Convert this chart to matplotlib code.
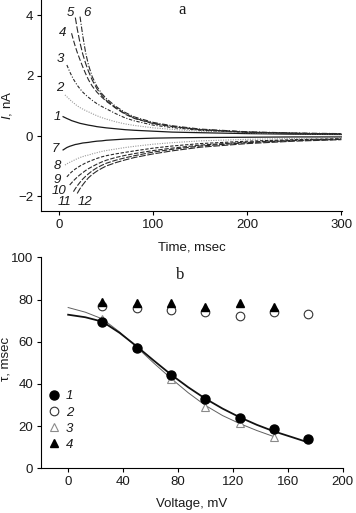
import numpy as np
import matplotlib
matplotlib.use("Agg")
import matplotlib.pyplot as plt

plt.rcParams['font.family'] = ['Liberation Sans', 'DejaVu Sans']
plt.rcParams['mathtext.fontset'] = 'custom'
plt.rcParams['mathtext.it'] = 'Liberation Sans:italic'
plt.rcParams['mathtext.rm'] = 'Liberation Sans'
TXT = '#1a1a1a'

# ---------------- panel a data: current traces (nA) vs time (ms) ----------------
time_ms = [4, 6, 8, 11, 13, 15, 17, 19, 22, 25, 28, 31, 35, 40, 45, 50,
           60, 70, 80, 100, 120, 150, 200, 250, 300]
# each trace starts later on the common time grid (aligned to its end)
trace1 = [0.64, 0.61, 0.58, 0.54, 0.51, 0.49, 0.47, 0.45, 0.42, 0.40, 0.38, 0.36, 0.34,
          0.31, 0.29, 0.27, 0.24, 0.21, 0.19, 0.16, 0.13, 0.11, 0.08, 0.06, 0.05]
trace2 = [1.36, 1.30, 1.21, 1.15, 1.10, 1.05, 1.00, 0.94, 0.89, 0.84, 0.80, 0.74,
          0.67, 0.61, 0.56, 0.47, 0.40, 0.35, 0.27, 0.22, 0.16, 0.11, 0.08, 0.06]
trace3 = [2.35, 2.13, 2.00, 1.88, 1.78, 1.68, 1.56, 1.45, 1.36, 1.28, 1.18, 1.07,
          0.98, 0.90, 0.74, 0.60, 0.50, 0.36, 0.28, 0.19, 0.12, 0.09, 0.07]
trace4 = [3.40, 3.17, 2.96, 2.77, 2.52, 2.28, 2.06, 1.86, 1.65, 1.45, 1.29, 1.15,
          0.92, 0.72, 0.58, 0.41, 0.31, 0.21, 0.13, 0.09, 0.07]
trace5 = [3.92, 3.55, 3.08, 2.70, 2.40, 2.14, 1.85, 1.56, 1.35, 1.18, 0.94, 0.74,
          0.59, 0.42, 0.32, 0.21, 0.13, 0.09, 0.07]
trace6 = [3.95, 3.30, 2.75, 2.35, 1.96, 1.64, 1.41, 1.24, 0.98, 0.78, 0.63, 0.45,
          0.34, 0.23, 0.14, 0.10, 0.08]
trace7 = [-0.46, -0.42, -0.38, -0.34, -0.32, -0.30, -0.28, -0.27, -0.25, -0.23, -0.22,
          -0.21, -0.19, -0.17, -0.16, -0.14, -0.12, -0.10, -0.09, -0.07, -0.06, -0.05,
          -0.04, -0.03, -0.03]
trace8 = [-0.96, -0.92, -0.87, -0.84, -0.81, -0.78, -0.75, -0.71, -0.68, -0.65, -0.63,
          -0.59, -0.55, -0.51, -0.48, -0.43, -0.38, -0.34, -0.27, -0.22, -0.16, -0.11,
          -0.08, -0.06]
trace9 = [-1.35, -1.25, -1.19, -1.14, -1.09, -1.05, -0.99, -0.94, -0.89, -0.85, -0.80,
          -0.74, -0.69, -0.65, -0.59, -0.54, -0.49, -0.40, -0.33, -0.25, -0.17, -0.12,
          -0.09]
trace10 = [-1.62, -1.55, -1.48, -1.42, -1.36, -1.28, -1.21, -1.14, -1.08, -1.01, -0.93,
           -0.86, -0.80, -0.71, -0.64, -0.58, -0.48, -0.40, -0.30, -0.20, -0.14, -0.10]
trace11 = [-1.84, -1.74, -1.65, -1.53, -1.42, -1.33, -1.25, -1.15, -1.05, -0.97, -0.90,
           -0.80, -0.72, -0.65, -0.53, -0.44, -0.33, -0.22, -0.15, -0.11]
trace12 = [-1.90, -1.74, -1.61, -1.49, -1.38, -1.27, -1.16, -1.07, -0.99, -0.88, -0.79,
           -0.71, -0.59, -0.49, -0.37, -0.25, -0.17, -0.12]
trace_labels = ['1', '2', '3', '4', '5', '6', '7', '8', '9', '10', '11', '12']

# ---------------- panel b data: tau (ms) vs voltage (mV) ----------------
volt1 = [25, 50, 75, 100, 125, 150, 175]
tau1 = [69.5, 57.0, 44.0, 33.0, 24.0, 18.5, 14.0]
volt2 = [25, 50, 75, 100, 125, 150, 175]
tau2 = [77.0, 76.0, 75.0, 74.0, 72.0, 74.0, 73.0]
volt3 = [25, 50, 75, 100, 125, 150]
tau3 = [71.0, 57.3, 42.3, 29.2, 21.3, 15.0]
volt4 = [25, 50, 75, 100, 125, 150]
tau4 = [79.0, 78.2, 78.2, 76.6, 78.5, 76.3]
fit1_volt = [0, 12.5, 25, 37.5, 50, 62.5, 75, 87.5, 100, 112.5, 125, 137.5, 150, 162.5, 172]
fit1_tau = [72.8, 71.6, 69.5, 64.2, 57.8, 51.0, 44.4, 38.4, 33.0, 28.3, 24.2, 20.6, 17.5,
            14.9, 12.9]
fit3_volt = [0, 12.5, 25, 37.5, 50, 62.5, 75, 87.5, 100, 112.5, 125, 137.5, 150]
fit3_tau = [76.2, 74.0, 70.8, 64.6, 57.4, 49.8, 42.6, 35.8, 29.8, 25.0, 21.2, 17.9, 15.0]
series_labels = ['1', '2', '3', '4']

fig = plt.figure(figsize=(3.56, 5.13), dpi=100)

# ================= panel a =================
axa = fig.add_axes([0.1152, 0.5887, 0.8463, 0.4113])
traces = [trace1, trace2, trace3, trace4, trace5, trace6,
          trace7, trace8, trace9, trace10, trace11, trace12]
styles = [
    dict(color='#1a1a1a', ls='-', lw=0.9),
    dict(color='#9a9a9a', ls=(0, (1, 1.2)), lw=0.8),
    dict(color='#2a2a2a', ls=(0, (3, 1.5, 1, 1.5)), lw=0.8),
    dict(color='#2a2a2a', ls=(0, (5, 2)), lw=0.8),
    dict(color='#2a2a2a', ls=(0, (6, 2)), lw=0.8),
    dict(color='#2a2a2a', ls=(0, (5, 1.5, 1, 1.5)), lw=0.8),
    dict(color='#1a1a1a', ls='-', lw=0.9),
    dict(color='#9a9a9a', ls=(0, (1, 1.2)), lw=0.8),
    dict(color='#2a2a2a', ls=(0, (3, 1.5)), lw=0.8),
    dict(color='#2a2a2a', ls=(0, (4, 1.5)), lw=0.8),
    dict(color='#2a2a2a', ls=(0, (5, 1.5)), lw=0.8),
    dict(color='#2a2a2a', ls=(0, (6, 1.5)), lw=0.8),
]
for vals, st in zip(traces, styles):
    t = time_ms[len(time_ms) - len(vals):]
    axa.plot(t, vals, **st)

label_pos = [(-2.5, 0.63), (0.7, 1.59), (0.7, 2.55), (4.0, 3.41), (11.4, 4.08), (29.5, 4.08),
             (-4.6, -0.43), (-2.5, -1.0), (-2.5, -1.44), (-0.3, -1.81), (6.0, -2.18),
             (27.0, -2.18)]
for lab, (x, y) in zip(trace_labels, label_pos):
    axa.text(x, y, lab, fontsize=9.5, fontstyle='italic', ha='center', va='center', color=TXT)

axa.text(130.5, 4.17, 'a', fontsize=12, family=['Liberation Serif', 'DejaVu Serif'],
         ha='center', va='center', color=TXT)

axa.set_xlim(-19.5, 301)
axa.set_ylim(-2.48, 4.5)
axa.set_xticks([0, 100, 200, 300])
axa.set_yticks([-2, 0, 2, 4])
axa.set_xlabel('Time, msec', fontsize=9.5, color=TXT)
axa.set_ylabel(r'$\mathit{I}$, nA', fontsize=9.5, color=TXT)
axa.xaxis.set_label_coords(0.5, -0.145)
axa.yaxis.set_label_coords(-0.09, 0.5)

# ================= panel b =================
axb = fig.add_axes([0.1143, 0.0871, 0.8483, 0.4113])
axb.plot(fit3_volt, fit3_tau, color='#606060', lw=0.7, zorder=2)
axb.plot(fit1_volt, fit1_tau, color='#111111', lw=1.3, zorder=2)
h3, = axb.plot(volt3, tau3, ls='none', marker='^', ms=6, mfc='white', mec='#8a8a8a',
               mew=0.8, zorder=3)
h2, = axb.plot(volt2, tau2, ls='none', marker='o', ms=6.2, mfc='white', mec='#333333',
               mew=0.8, zorder=3)
h1, = axb.plot(volt1, tau1, ls='none', marker='o', ms=6.5, mfc='black', mec='black',
               zorder=4)
h4, = axb.plot(volt4, tau4, ls='none', marker='^', ms=5.5, mfc='black', mec='black',
               zorder=4)
leg = axb.legend([h1, h2, h3, h4], series_labels, loc='upper left',
                 bbox_to_anchor=(0.022, 0.37), frameon=False, handlelength=1.0,
                 handletextpad=0.4, labelspacing=0.3, borderpad=0, borderaxespad=0,
                 prop=dict(size=9.5, style='italic'))
for txt in leg.get_texts():
    txt.set_color(TXT)

axb.text(81.4, 91.6, 'b', fontsize=12, family=['Liberation Serif', 'DejaVu Serif'],
         ha='center', va='center', color=TXT)

axb.set_xlim(-20, 200)
axb.set_ylim(0, 100)
axb.set_xticks([0, 40, 80, 120, 160, 200])
axb.set_yticks([0, 20, 40, 60, 80, 100])
axb.set_xlabel('Voltage, mV', fontsize=9.5, color=TXT)
axb.set_ylabel('τ, msec', fontsize=9.5, color=TXT)
axb.xaxis.set_label_coords(0.5, -0.141)
axb.yaxis.set_label_coords(-0.098, 0.52)

for ax in (axa, axb):
    for s in ('top', 'right'):
        ax.spines[s].set_visible(False)
    for s in ('left', 'bottom'):
        ax.spines[s].set_linewidth(0.8)
    ax.tick_params(direction='out', length=3, width=0.8, labelsize=9.5, pad=2.5,
                   colors='black', labelcolor=TXT)

fig.savefig('out.png', dpi=100)
